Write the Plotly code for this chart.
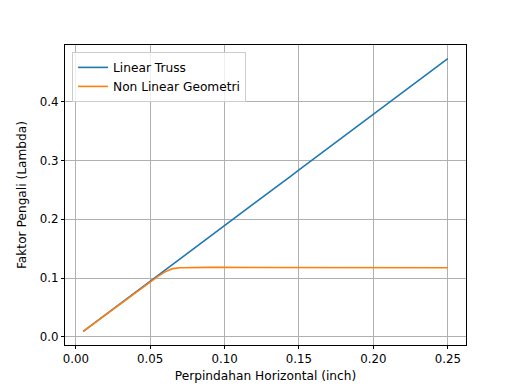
import plotly.graph_objects as go

disp = [0.005, 0.010, 0.015, 0.020, 0.025, 0.030, 0.035, 0.040, 0.045, 0.050,
        0.055, 0.060, 0.065, 0.070, 0.075, 0.080, 0.085, 0.090, 0.095, 0.100,
        0.105, 0.110, 0.115, 0.120, 0.125, 0.130, 0.135, 0.140, 0.145, 0.150,
        0.155, 0.160, 0.165, 0.170, 0.175, 0.180, 0.185, 0.190, 0.195, 0.200,
        0.205, 0.210, 0.215, 0.220, 0.225, 0.230, 0.235, 0.240, 0.245, 0.250]

linear_truss = [0.0095, 0.0189, 0.0284, 0.0378, 0.0473, 0.0568, 0.0662, 0.0757, 0.0851, 0.0946,
                0.1041, 0.1135, 0.1230, 0.1324, 0.1419, 0.1514, 0.1608, 0.1703, 0.1797, 0.1892,
                0.1987, 0.2081, 0.2176, 0.2270, 0.2365, 0.2460, 0.2554, 0.2649, 0.2743, 0.2838,
                0.2933, 0.3027, 0.3122, 0.3216, 0.3311, 0.3406, 0.3500, 0.3595, 0.3689, 0.3784,
                0.3879, 0.3973, 0.4068, 0.4162, 0.4257, 0.4352, 0.4446, 0.4541, 0.4635, 0.4730]

non_linear = [0.0094, 0.0188, 0.0282, 0.0376, 0.0470, 0.0564, 0.0657, 0.0750, 0.0843, 0.0935,
              0.1025, 0.1105, 0.1160, 0.1176, 0.1180, 0.1181, 0.1181, 0.1181, 0.1181, 0.1181,
              0.1181, 0.1181, 0.1181, 0.1181, 0.1181, 0.1181, 0.1181, 0.1181, 0.1181, 0.1181,
              0.1180, 0.1180, 0.1180, 0.1180, 0.1179, 0.1179, 0.1179, 0.1178, 0.1178, 0.1178,
              0.1177, 0.1177, 0.1177, 0.1176, 0.1176, 0.1176, 0.1175, 0.1175, 0.1175, 0.1175]

x_ticks = [0.00, 0.05, 0.10, 0.15, 0.20, 0.25]
y_ticks = [0.0, 0.1, 0.2, 0.3, 0.4]

font = dict(family="DejaVu Sans", size=12.2, color="#000000")
tick_font = dict(family="DejaVu Sans", size=11.8, color="#000000")

fig = go.Figure()
fig.add_trace(go.Scatter(x=disp, y=linear_truss, mode="lines", name="Linear Truss",
                         line=dict(color="#1f77b4", width=1.6)))
fig.add_trace(go.Scatter(x=disp, y=non_linear, mode="lines", name="Non Linear Geometri",
                         line=dict(color="#ff7f0e", width=1.6)))

axis_common = dict(showline=True, linecolor="black", linewidth=1, mirror=True,
                   ticks="outside", ticklen=3, tickwidth=1, tickcolor="black",
                   showgrid=True, gridcolor="#b0b0b0", gridwidth=1, zeroline=False,
                   tickfont=tick_font, automargin=False)

fig.update_xaxes(range=[-0.00725, 0.26225], tickvals=x_ticks, tickformat=".2f",
                 title=dict(text="Perpindahan Horizontal (inch)", font=font, standoff=6),
                 **axis_common)
fig.update_yaxes(range=[-0.0138, 0.4962], tickvals=y_ticks, tickformat=".1f",
                 title=dict(text="Faktor Pengali (Lambda)", font=font, standoff=10),
                 **axis_common)

fig.update_layout(
    width=510, height=380,
    margin=dict(l=57, r=52, t=37, b=43),
    paper_bgcolor="white", plot_bgcolor="white",
    font=font,
    showlegend=True,
    legend=dict(x=0.0175, y=0.977, xanchor="left", yanchor="top",
                bgcolor="rgba(255,255,255,0.8)", bordercolor="#cccccc", borderwidth=1,
                font=font, tracegroupgap=0, itemwidth=30),
)

fig.write_html("out.html")
